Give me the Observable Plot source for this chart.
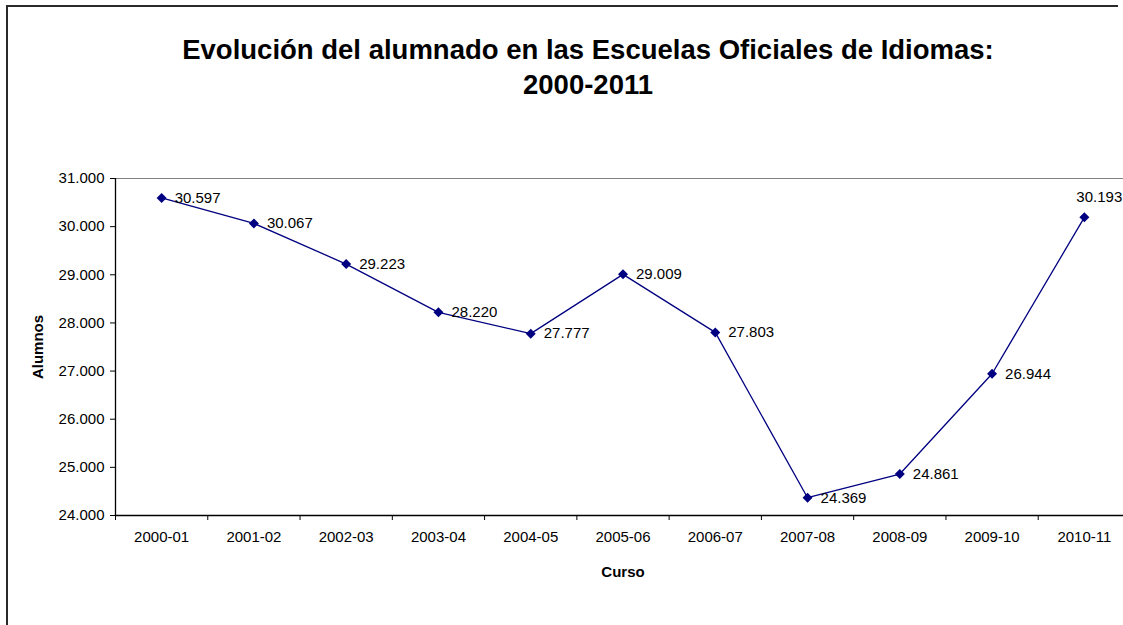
<!DOCTYPE html>
<html>
<head>
<meta charset="utf-8">
<script src="https://cdn.jsdelivr.net/npm/d3@7"></script>
<script src="https://cdn.jsdelivr.net/npm/@observablehq/plot@0.6"></script>
<style>
  html, body { margin: 0; padding: 0; background: white; overflow: hidden; }
  #wrap { position: relative; width: 1123px; height: 625px; overflow: hidden; font-family: "Liberation Sans", Arial, sans-serif; }
  #bl { position: absolute; left: 6px; top: 5px; width: 2px; height: 620px; background: #2a2a2a; }
  #bt { position: absolute; left: 6px; top: 5px; width: 1112px; height: 2px; background: #2a2a2a; }
  #title { position: absolute; left: 0; top: 32px; width: 1176px; text-align: center; font-weight: bold; font-size: 27.5px; line-height: 35px; color: #000; }
  #chart { position: absolute; left: 0; top: 0; width: 1123px; height: 625px; overflow: hidden; }
  #chart svg { max-width: none; }
</style>
</head>
<body>
<div id="wrap">
  <div id="bl"></div>
  <div id="bt"></div>
  <div id="title">Evolución del alumnado en las Escuelas Oficiales de Idiomas:<br>2000-2011</div>
  <div id="chart"></div>
</div>
<script>
const cursos = ["2000-01","2001-02","2002-03","2003-04","2004-05","2005-06","2006-07","2007-08","2008-09","2009-10","2010-11"];
const alumnos = [30597, 30067, 29223, 28220, 27777, 29009, 27803, 24369, 24861, 26944, 30193];
const yTicks = [24000, 25000, 26000, 27000, 28000, 29000, 30000, 31000];

const es = d3.formatLocale({decimal: ",", thousands: ".", grouping: [3], currency: ["", " €"]});
const fmt = es.format(",d");

const data = cursos.map((c, i) => ({curso: c, i, alumnos: alumnos[i]}));
const last = data.length - 1;
const navy = "#000080";

const chart = Plot.plot({
  width: 1123,
  height: 625,
  marginLeft: 115,
  marginRight: -7,
  marginTop: 178,
  marginBottom: 110,
  style: {fontFamily: "'Liberation Sans', Arial, sans-serif", fontSize: "15px", color: "#000", background: "transparent", overflow: "hidden"},
  x: {type: "linear", domain: [-0.5, cursos.length - 0.5]},
  y: {domain: [yTicks[0], yTicks[yTicks.length - 1]]},
  marks: [
    Plot.ruleY([yTicks[yTicks.length - 1]], {stroke: "#808080", strokeWidth: 1.2}),
    Plot.axisY(yTicks, {tickSize: 5, tickPadding: 6, tickFormat: fmt, label: null, stroke: "#000", fill: "#000"}),
    Plot.axisX(d3.range(cursos.length), {tickSize: 0, tickPadding: 16, tickFormat: i => cursos[i], label: null, fill: "#000"}),
    Plot.axisX(d3.range(cursos.length + 1).map(i => i - 0.5), {tickSize: 5, tickFormat: () => "", label: null, stroke: "#000"}),
    Plot.ruleX([-0.5], {stroke: "#000", strokeWidth: 1.3}),
    Plot.ruleY([yTicks[0]], {stroke: "#000", strokeWidth: 1.6}),
    Plot.line(data, {x: "i", y: "alumnos", stroke: navy, strokeWidth: 1.3}),
    Plot.dot(data, {x: "i", y: "alumnos", symbol: "diamond2", r: 4.5, fill: navy, stroke: "none"}),
    Plot.text(data.filter(d => d.i !== last), {x: "i", y: "alumnos", text: d => fmt(d.alumnos), textAnchor: "start", dx: 13, fill: "#000", fontSize: 15}),
    Plot.text(data.filter(d => d.i === last), {x: "i", y: "alumnos", text: d => fmt(d.alumnos), textAnchor: "start", dx: -8, dy: -20, fill: "#000", fontSize: 15}),
    Plot.text(["Alumnos"], {frameAnchor: "left", dx: -77, rotate: -90, textAnchor: "middle", lineAnchor: "middle", fontWeight: "bold", fontSize: 15, fill: "#000"}),
    Plot.text(["Curso"], {frameAnchor: "bottom", dy: 57, textAnchor: "middle", lineAnchor: "middle", fontWeight: "bold", fontSize: 15, fill: "#000"})
  ]
});
document.getElementById("chart").appendChild(chart);
</script>
</body>
</html>
